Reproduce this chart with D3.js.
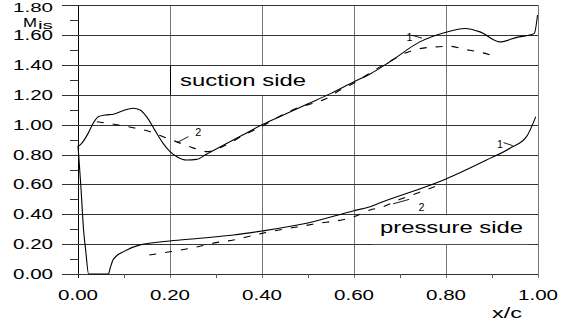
<!DOCTYPE html>
<html>
<head>
<meta charset="utf-8">
<script src="https://cdn.jsdelivr.net/npm/d3@7"></script>
<style>
  body { margin: 0; background: #fff; }
  svg { display: block; }
  text { font-family: "Liberation Sans", Arial, sans-serif; fill: #000; }
</style>
</head>
<body>
<div id="chart"></div>
<script>
// suction side, curve 1 (solid)
const suctionX1 = [0, 0.008, 0.022, 0.033, 0.044, 0.059, 0.077, 0.098, 0.12, 0.135, 0.149, 0.167, 0.185, 0.2, 0.215, 0.236, 0.258, 0.28, 0.32, 0.36, 0.4, 0.45, 0.5, 0.55, 0.6, 0.635, 0.678, 0.743, 0.8, 0.841, 0.874, 0.917, 0.954, 0.986, 0.992, 0.999];
const suctionM1 = [0.853, 0.875, 0.942, 1.01, 1.054, 1.065, 1.07, 1.094, 1.11, 1.098, 1.054, 0.964, 0.875, 0.82, 0.786, 0.764, 0.768, 0.804, 0.869, 0.934, 1.0, 1.07, 1.14, 1.21, 1.288, 1.34, 1.422, 1.555, 1.62, 1.645, 1.622, 1.555, 1.585, 1.605, 1.612, 1.735];

// suction side, curve 2 (dashed)
const suctionX2 = [0.041, 0.084, 0.12, 0.157, 0.185, 0.215, 0.25, 0.28, 0.32, 0.36, 0.4, 0.43, 0.475, 0.51, 0.54, 0.57, 0.6, 0.645, 0.69, 0.71, 0.73, 0.77, 0.81, 0.84, 0.875, 0.91];
const suctionM2 = [1.02, 1.0, 0.98, 0.953, 0.92, 0.885, 0.845, 0.82, 0.862, 0.93, 0.99, 1.043, 1.11, 1.143, 1.176, 1.232, 1.28, 1.367, 1.445, 1.478, 1.50, 1.52, 1.525, 1.505, 1.485, 1.455];

// pressure side, curve 1 (solid)
const pressureX1 = [0, 0.006, 0.012, 0.017, 0.023, 0.066, 0.07, 0.077, 0.099, 0.135, 0.2, 0.265, 0.338, 0.4, 0.497, 0.6, 0.635, 0.657, 0.8, 0.888, 0.939, 0.975, 0.995];
const pressureM1 = [0.86, 0.6, 0.3, 0.15, 0, 0, 0.04, 0.10, 0.15, 0.195, 0.221, 0.239, 0.261, 0.288, 0.34, 0.424, 0.451, 0.477, 0.636, 0.763, 0.842, 0.92, 1.053];

// pressure side, curve 2 (dashed)
const pressureX2 = [0.155, 0.2, 0.235, 0.267, 0.3, 0.338, 0.375, 0.4, 0.51, 0.6, 0.635, 0.657, 0.7, 0.74, 0.78];
const pressureM2 = [0.127, 0.149, 0.167, 0.187, 0.21, 0.228, 0.254, 0.272, 0.333, 0.384, 0.429, 0.444, 0.50, 0.545, 0.59];

const xTicks = [0, 0.2, 0.4, 0.6, 0.8, 1.0];
const yTicks = [0, 0.2, 0.4, 0.6, 0.8, 1.0, 1.2, 1.4, 1.6, 1.8];

const W = 571, H = 326;
const svg = d3.select('#chart').append('svg')
  .attr('width', W)
  .attr('height', H);

const x = d3.scaleLinear().domain([0, 1]).range([78, 538]);
const y = d3.scaleLinear().domain([0, 1.8]).range([274, 5.3]);
const fmt = d3.format('.2f');

// text squeezed/stretched to a fixed width, like the original plot font
function label(txt, px, py, size, len, anchor = 'start') {
  return svg.append('text')
    .attr('x', px).attr('y', py)
    .attr('font-size', size)
    .attr('text-anchor', anchor)
    .attr('textLength', len)
    .attr('lengthAdjust', 'spacingAndGlyphs')
    .text(txt);
}

// grid
const grid = svg.append('g').attr('shape-rendering', 'crispEdges');
grid.selectAll('.gv')
  .data(xTicks).enter().append('line')
  .attr('x1', d => Math.round(x(d)) + 0.5).attr('x2', d => Math.round(x(d)) + 0.5)
  .attr('y1', y(1.8)).attr('y2', y(0) + 4)
  .attr('stroke', d => d === 0 ? '#000' : '#777');
grid.selectAll('.gh')
  .data(yTicks).enter().append('line')
  .attr('x1', x(0) - 16).attr('x2', x(1))
  .attr('y1', d => Math.round(y(d)) + 0.5).attr('y2', d => Math.round(y(d)) + 0.5)
  .attr('stroke', '#333');

// minor ticks
grid.selectAll('.my')
  .data(d3.range(0.1, 1.8, 0.2)).enter().append('line')
  .attr('x1', x(0) - 8).attr('x2', x(0))
  .attr('y1', d => Math.round(y(d)) + 0.5).attr('y2', d => Math.round(y(d)) + 0.5)
  .attr('stroke', '#333');
grid.selectAll('.mx')
  .data(d3.range(0.1, 1.0, 0.2)).enter().append('line')
  .attr('x1', d => Math.round(x(d)) + 0.5).attr('x2', d => Math.round(x(d)) + 0.5)
  .attr('y1', y(0)).attr('y2', y(0) + 4)
  .attr('stroke', '#555');

// white boxes behind the side labels
svg.append('rect')
  .attr('x', x(0.2) + 0.5).attr('y', y(1.4) + 1)
  .attr('width', 142).attr('height', y(1.2) - y(1.4) - 1)
  .attr('fill', '#fff');
svg.append('line')
  .attr('x1', x(0.2) + 0.5).attr('x2', x(0.2) + 0.5)
  .attr('y1', y(1.4)).attr('y2', y(1.2))
  .attr('stroke', '#000').attr('shape-rendering', 'crispEdges');
svg.append('rect')
  .attr('x', x(0.64)).attr('y', y(0.4) + 1)
  .attr('width', 156).attr('height', y(0.2) - y(0.4) - 1)
  .attr('fill', '#fff');

// tick labels (top one a bit smaller so it fits above the axis title)
yTicks.forEach(d => {
  if (d === 1.8) label(fmt(d), 53, 11.5, 13, 40, 'end');
  else label(fmt(d), 53, y(d) + 5, 14, 40, 'end');
});
xTicks.forEach(d => label(fmt(d), x(d), 300, 14, 40, 'middle'));

// axis titles
label('M', 23, 26.5, 13.5, 14);
label('is', 38, 28.5, 10, 15);
label('x/c', 492, 318, 15, 30);
label('suction side', 180, 85.5, 17, 126);
label('pressure side', 380, 232.5, 17, 143);

// curves
const line = d3.line()
  .x(d => x(d[0]))
  .y(d => y(d[1]))
  .curve(d3.curveMonotoneX);

const curves = [
  { xs: suctionX1, ms: suctionM1, dash: null },
  { xs: suctionX2, ms: suctionM2, dash: '7,9' },
  { xs: pressureX1, ms: pressureM1, dash: null },
  { xs: pressureX2, ms: pressureM2, dash: '7,9' }
];

svg.selectAll('.curve')
  .data(curves).enter().append('path')
  .attr('d', c => line(c.xs.map((v, i) => [v, c.ms[i]])))
  .attr('fill', 'none')
  .attr('stroke', '#000')
  .attr('stroke-width', 1.1)
  .attr('stroke-dasharray', c => c.dash);

// curve numbers with leader lines
const notes = [
  { t: '1', tx: 0.714, ty: 1.585, lx: [0.725, 0.748], ly: [1.60, 1.58] },
  { t: '2', tx: 0.255, ty: 0.95, lx: [0.215, 0.24], ly: [0.88, 0.92] },
  { t: '1', tx: 0.911, ty: 0.87, lx: [0.925, 0.945], ly: [0.88, 0.86] },
  { t: '2', tx: 0.74, ty: 0.45, lx: [0.685, 0.72], ly: [0.47, 0.50] }
];
notes.forEach(n => {
  label(n.t, x(n.tx), y(n.ty) + 4, 11, 6);
  svg.append('line')
    .attr('x1', x(n.lx[0])).attr('y1', y(n.ly[0]))
    .attr('x2', x(n.lx[1])).attr('y2', y(n.ly[1]))
    .attr('stroke', '#000').attr('stroke-width', 0.9);
});
</script>
</body>
</html>
